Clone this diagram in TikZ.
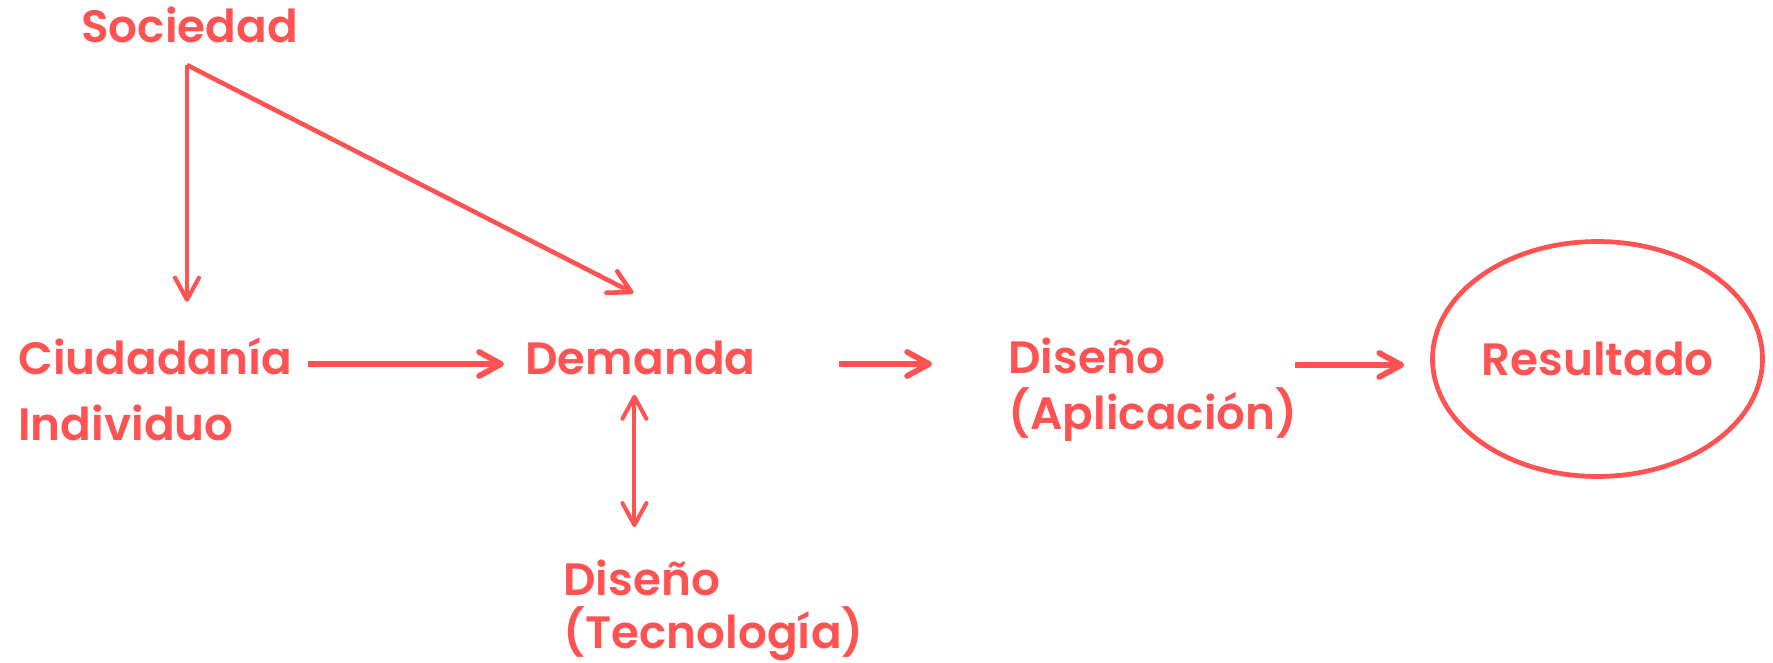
\documentclass[tikz,border=0pt]{standalone}
\usepackage{fontspec}
\setmainfont{Poppins}[UprightFont=* SemiBold]
\usetikzlibrary{arrows.meta,shapes.geometric}
\definecolor{coral}{HTML}{FF5252}
\newcommand{\flowlw}{3.3pt}
\newcommand{\rowup}{2mm}

\begin{document}
\begin{tikzpicture}[x=0.02cm, y=-0.02cm,
        font=\fontsize{25.8}{30}\selectfont,
        every node/.style={text=coral, inner sep=0pt},
        txt/.style={anchor=base west},
        flow/.style={draw=coral, line width=\flowlw, ->},
        >={Straight Barb[length=4.4mm, width=4.8mm, round]}]
        %\draw[help lines, step=100] (0,0) grid (1773,662);
        \useasboundingbox (0,0) rectangle (1773,662);

        \node[txt] (soc) at (81,43) {Sociedad};
        \node[txt] (ciud) at (18,374) {Ciudadanía};
        \node[txt] (indiv) at (18,440) {Individuo};
        \node[txt] (dem) at (525,374) {Demanda};
        \node[txt] (disa1) at (1008,373) {Diseño};
        \node[txt] (disa2) at (1008,429) {(Aplicación)};
        \node[txt] (dist1) at (563,595) {Diseño};
        \node[txt] (dist2) at (563,648) {(Tecnología)};
        \node[ellipse, draw=coral, line width=2.7pt,
            minimum width=6.6cm, minimum height=4.7cm] (res) at (1597.5,359) {Resultado};

        \coordinate (socb) at (187,65);
        \draw[flow, line width=2.4pt, shorten >=0.7cm] (socb) -- (socb |- ciud.north);
        \draw[flow, line width=2.6pt] (socb) -- ([xshift=-0.14cm, yshift=0.94cm]dem.north);

        \draw[flow, shorten <=0.3cm, shorten >=0.42cm]
            ([yshift=\rowup]ciud.base east) -- ([yshift=\rowup]dem.base west);
        \draw[flow, shorten <=1.66cm, shorten >=1.52cm]
            ([yshift=\rowup]dem.base east) -- ([yshift=\rowup]dem.base east -| disa1.west);
        \draw[flow, shorten <=-0.05cm, shorten >=0.52cm]
            ([yshift=-1.2mm]res.west -| disa2.east) -- ([yshift=-1.2mm]res.west);
        \draw[flow, <->, line width=2.3pt, shorten <=0.4cm, shorten >=0.64cm]
            ([xshift=-1.2mm]dem.south) -- ([xshift=-1.2mm]dem.south |- dist1.north);
\end{tikzpicture}
\end{document}
